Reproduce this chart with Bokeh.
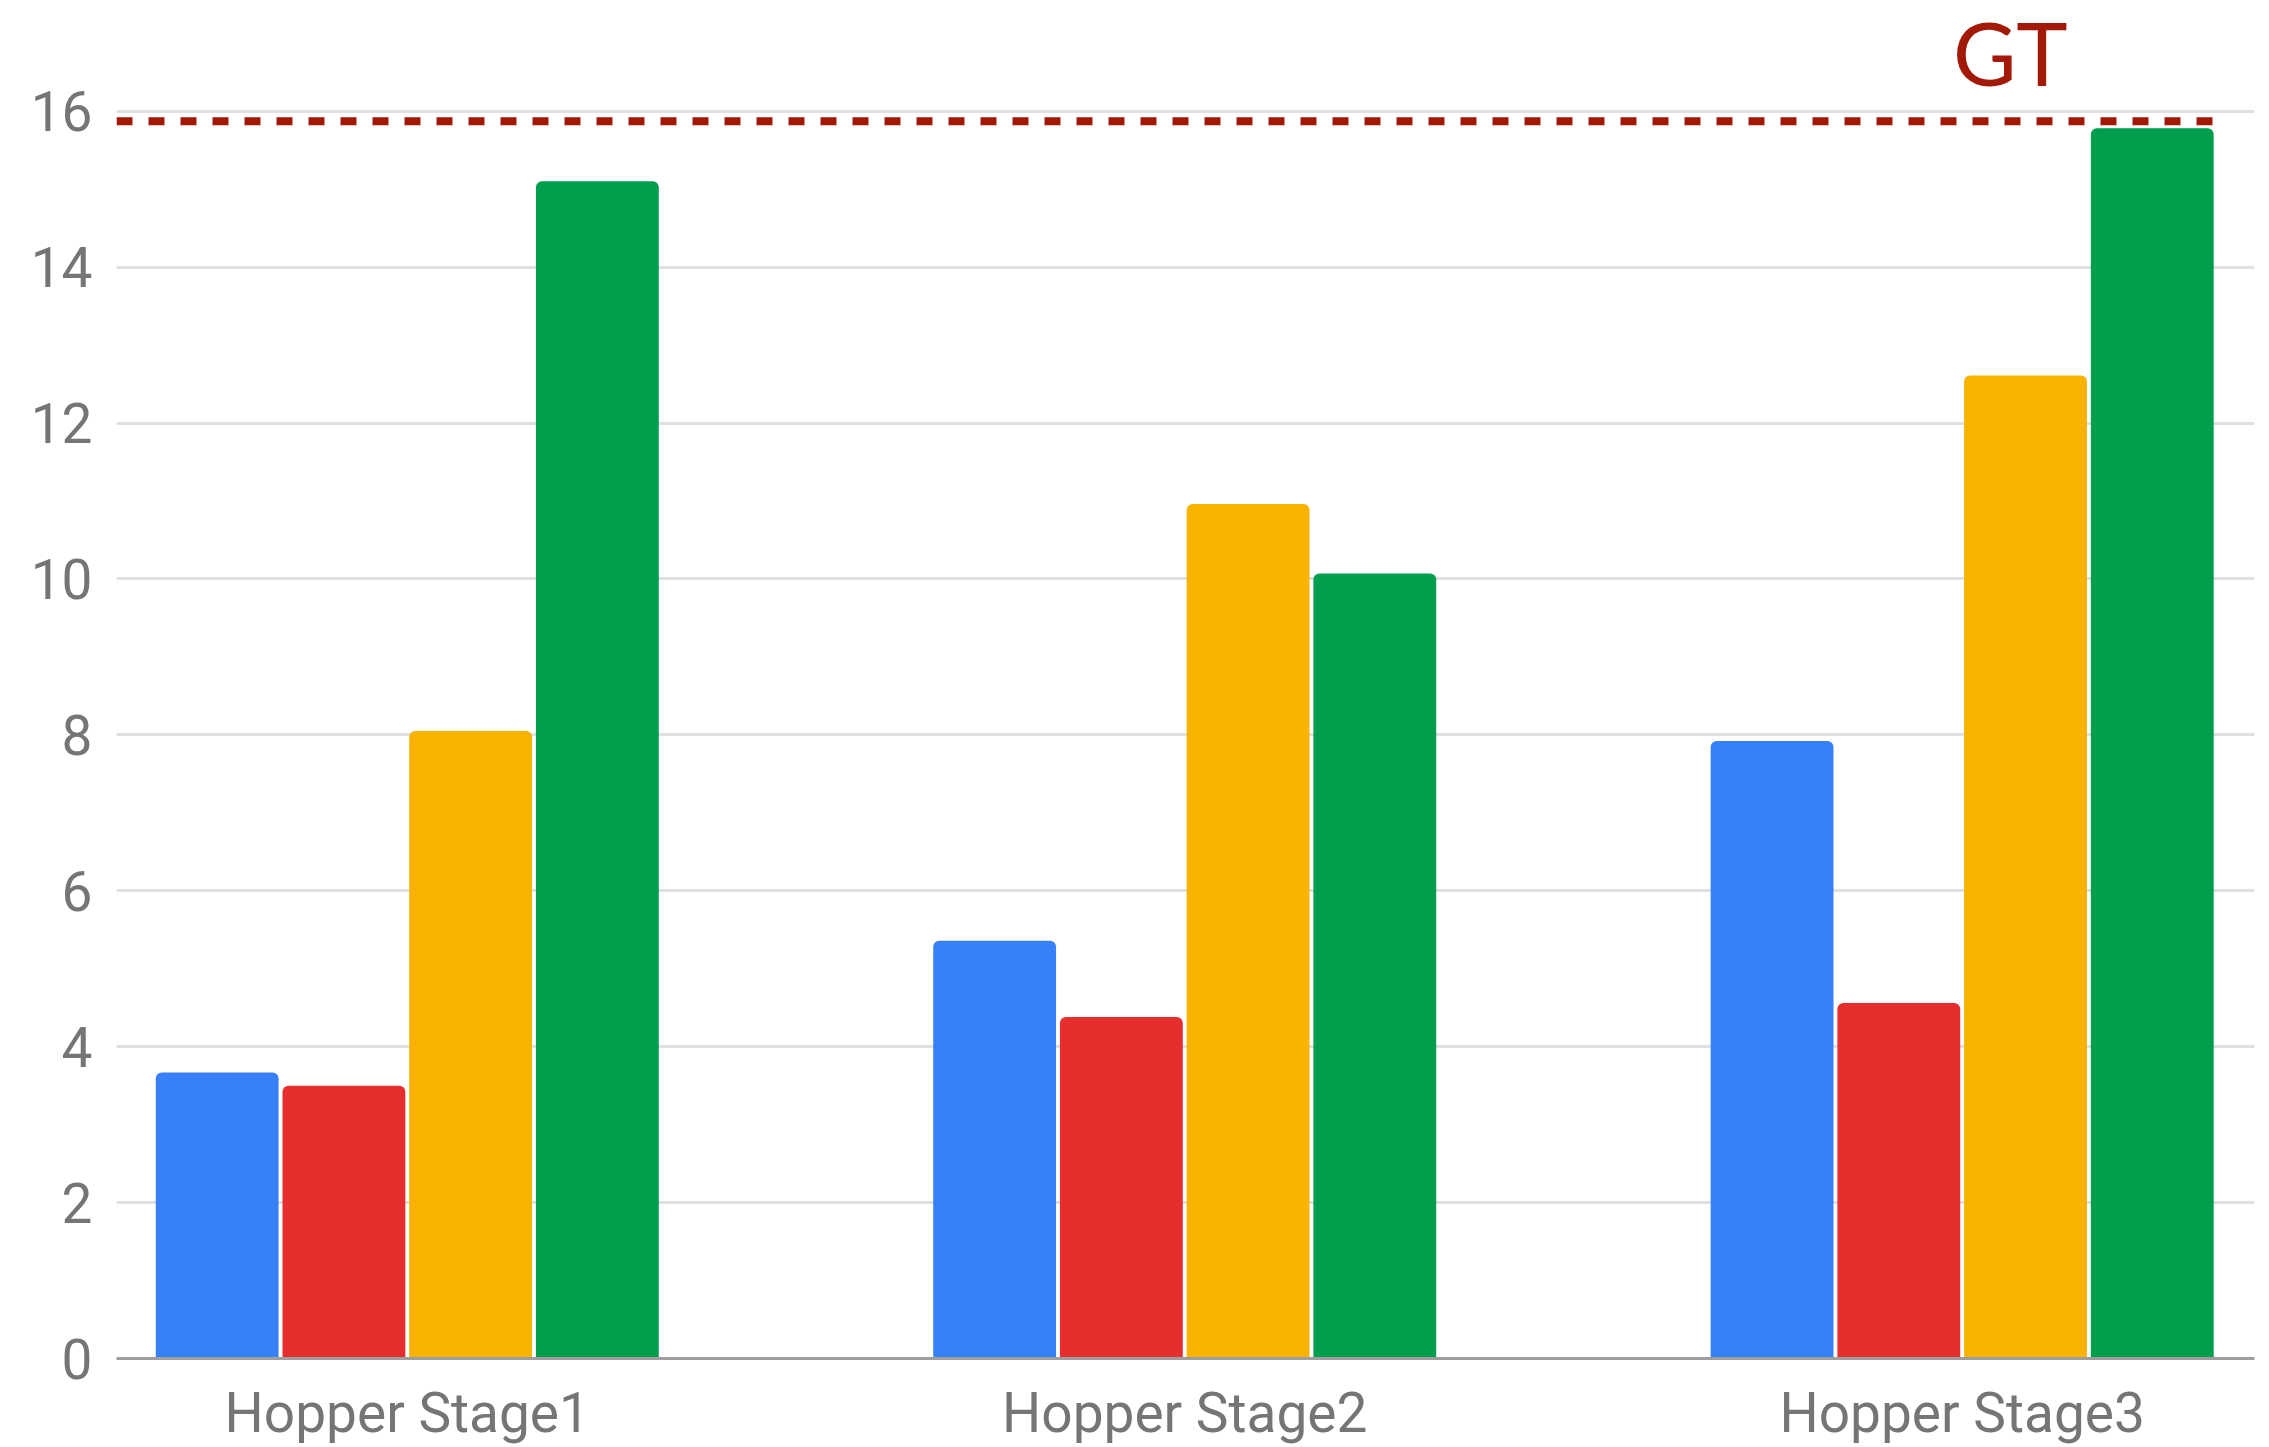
from bokeh.plotting import figure
from bokeh.models import Range1d, FixedTicker, Label
from bokeh.embed import file_html
from bokeh.resources import INLINE

# --- data ---
stages = ["Hopper Stage1", "Hopper Stage2", "Hopper Stage3"]
series_a = [3.67, 5.36, 7.92]
series_b = [3.50, 4.38, 4.56]
series_c = [8.05, 10.96, 12.61]
series_d = [15.10, 10.07, 15.78]
gt_value = 15.87
y_ticks = [0, 2, 4, 6, 8, 10, 12, 14, 16]

colors = ["#3780F7", "#E62E2E", "#F8B300", "#009F4E"]
all_series = [series_a, series_b, series_c, series_d]

# --- layout ---
x_start, x_end = -0.374, 2.376
pitch = 0.163
bar_w = 0.158

p = figure(
    width=2269, height=1447,
    x_range=Range1d(x_start, x_end),
    y_range=Range1d(0, 17.42),
    output_backend="svg", toolbar_location=None,
    min_border_left=116, min_border_right=15,
    min_border_top=0, min_border_bottom=87,
)
p.outline_line_color = None
p.background_fill_color = "white"
p.border_fill_color = "white"

xs = list(range(len(stages)))
for i, (vals, col) in enumerate(zip(all_series, colors)):
    off = (i - 1.5) * pitch
    p.vbar(x=[x + off for x in xs], top=vals, bottom=0, width=bar_w,
           fill_color=col, line_color=None, border_radius=(6, 6, 0, 0))

# ground-truth reference line, ends at the right edge of the last bar
gt_right = xs[-1] + 1.5 * pitch + bar_w / 2
p.line(x=[x_start, gt_right], y=[gt_value, gt_value], line_color="#A31908",
       line_width=8, line_dash="16 16", line_cap="butt")
p.add_layout(Label(x=2.062, y=16.75, text="GT", text_font="Lato",
                   text_font_size="87px", text_color="#A31908",
                   text_align="center", text_baseline="alphabetic"))

# grid
p.xgrid.grid_line_color = None
p.ygrid.grid_line_color = "#E0E0E0"
p.ygrid.grid_line_width = 3
p.yaxis.ticker = FixedTicker(ticks=y_ticks)

# y axis
p.yaxis.axis_line_color = None
p.yaxis.major_tick_line_color = None
p.yaxis.minor_tick_line_color = None
p.yaxis.major_label_standoff = 18
p.yaxis.major_label_text_font = "Roboto"
p.yaxis.major_label_text_font_size = "55px"
p.yaxis.major_label_text_color = "#757575"

# x axis
p.xaxis.ticker = FixedTicker(ticks=xs)
p.xaxis.major_label_overrides = {x: s for x, s in zip(xs, stages)}
p.xaxis.axis_line_color = "#9E9E9E"
p.xaxis.axis_line_width = 3
p.xaxis.major_tick_line_color = None
p.xaxis.minor_tick_line_color = None
p.xaxis.major_label_standoff = 16
p.xaxis.major_label_text_font = "Roboto"
p.xaxis.major_label_text_font_size = "55px"
p.xaxis.major_label_text_color = "#757575"

open("out.html", "w").write(file_html(p, INLINE))
